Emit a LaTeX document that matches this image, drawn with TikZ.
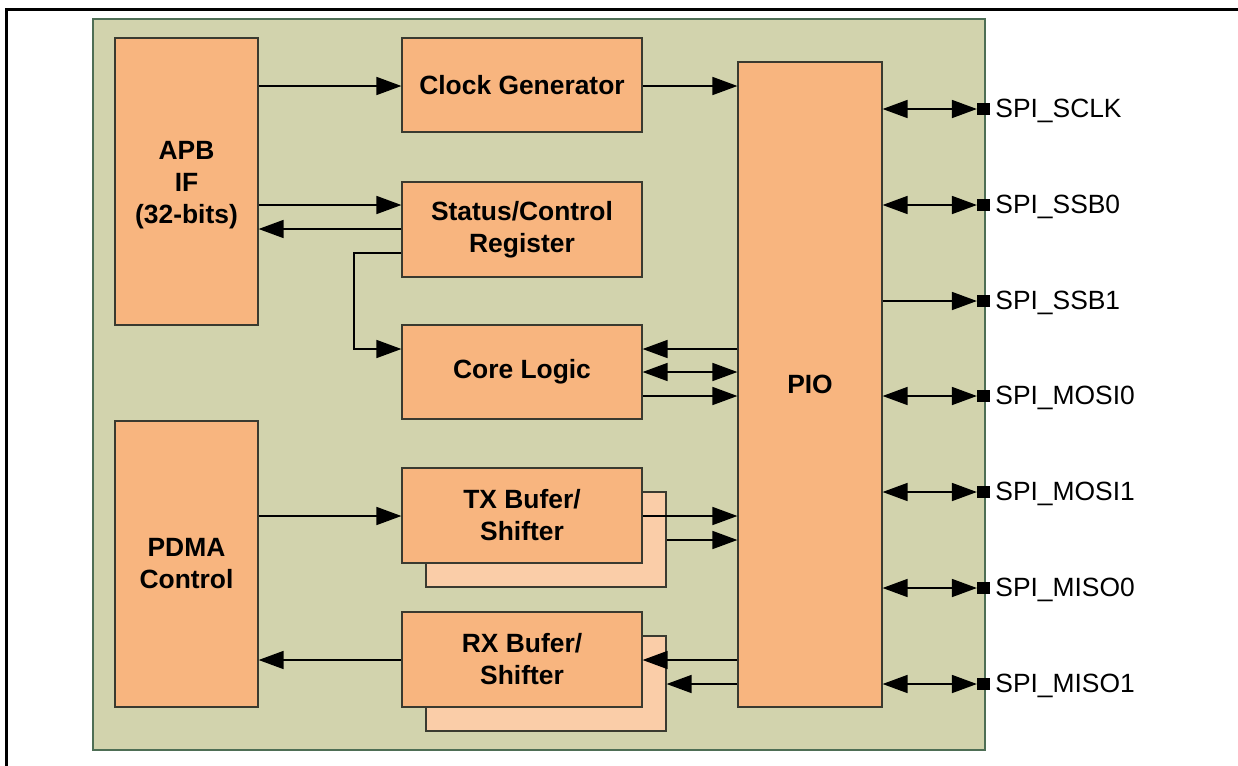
\documentclass[tikz,border=0pt]{standalone}
\usepackage{fontspec}
\setmainfont{Liberation Sans}
\usetikzlibrary{arrows.meta}
\definecolor{panelfill}{HTML}{D2D3AD}
\definecolor{paneledge}{HTML}{4E6E55}
\definecolor{boxfill}{HTML}{F8B57F}
\definecolor{shadowfill}{HTML}{FACDA8}
\definecolor{boxedge}{HTML}{3A3A30}
\tikzset{
  blk/.style={draw=boxedge, line width=0.6pt, fill=boxfill, align=center,
    font=\fontsize{13.2}{16}\selectfont\bfseries, inner sep=0pt},
  shadowblk/.style={draw=boxedge, line width=0.6pt, fill=shadowfill, inner sep=0pt},
  tip/.tip={Triangle[length=12.5pt,width=9pt]},
  arr/.style={line width=0.8pt, -tip},
  darr/.style={line width=0.8pt, tip-tip},
  pinsq/.style={fill=black, draw=none, minimum size=6.2pt, inner sep=0pt},
  pinlbl/.style={anchor=west, inner sep=0pt, font=\fontsize{13.2}{16}\selectfont},
}
\begin{document}
\begin{tikzpicture}[x=0.5pt,y=-0.5pt]
\useasboundingbox (0,0) rectangle (1238,766);
% outer frame (runs off the page to the right and bottom)
\draw[line width=1.5pt] (1250,9) -- (6.5,9) -- (6.5,780);
% panel
\draw[draw=paneledge, line width=0.6pt, fill=panelfill] (93,19) rectangle (985,750);
% blocks
\node[blk, minimum width=71.5pt, minimum height=143.5pt] (apb) at (186.5,181.5) {\rule{0pt}{13pt}APB\\IF\\(32-bits)};
\node[blk, minimum width=120pt, minimum height=47pt] (clk) at (522,85) {Clock Generator};
\node[blk, minimum width=120pt, minimum height=47.5pt] (stat) at (522,229.5) {Status/Control\\Register};
\node[blk, minimum width=120pt, minimum height=47pt] (core) at (522,372) {Core Logic};
\node[blk, minimum width=72pt, minimum height=322.5pt] (pio) at (810,384.5) {PIO};
\node[blk, minimum width=71.5pt, minimum height=143pt] (pdma) at (186.5,564) {PDMA\\Control};
\node[shadowblk, minimum width=120pt, minimum height=47.5pt] (txs) at (546,539.5) {};
\node[blk, minimum width=120pt, minimum height=47.5pt] (tx) at (522,515.5) {TX Bufer/\\Shifter};
\node[shadowblk, minimum width=120pt, minimum height=47.5pt] (rxs) at (546,683.5) {};
\node[blk, minimum width=120pt, minimum height=47.5pt] (rx) at (522,659.5) {RX Bufer/\\Shifter};
% internal connections
\draw[arr] (apb.east |- 0,86) -- (clk.west |- 0,86);
\draw[arr] (clk.east |- 0,86) -- (pio.west |- 0,86);
\draw[arr] (apb.east |- 0,205) -- (stat.west |- 0,205);
\draw[arr] (stat.west |- 0,229) -- (apb.east |- 0,229);
\draw[arr] (stat.west |- 0,253) -- (354,253) -- (354,349) -- (core.west |- 0,349);
\draw[arr] (pio.west |- 0,349) -- (core.east |- 0,349);
\draw[darr] (core.east |- 0,372) -- (pio.west |- 0,372);
\draw[arr] (core.east |- 0,396) -- (pio.west |- 0,396);
\draw[arr] (pdma.east |- 0,516) -- (tx.west |- 0,516);
\draw[arr] (tx.east |- 0,516) -- (pio.west |- 0,516);
\draw[arr] (txs.east |- 0,540) -- (pio.west |- 0,540);
\draw[arr] (rx.west |- 0,660) -- (pdma.east |- 0,660);
\draw[arr] (pio.west |- 0,660) -- (rx.east |- 0,660);
\draw[arr] (pio.west |- 0,684) -- (rxs.east |- 0,684);
% pins
\foreach \n/\y/\t in {p1/109/SPI\_SCLK, p2/205/SPI\_SSB0, p3/301/SPI\_SSB1, p4/396/SPI\_MOSI0, p5/492/SPI\_MOSI1, p6/588/SPI\_MISO0, p7/684/SPI\_MISO1}{
  \node[pinsq] (\n) at (983.5,\y) {};
  \node[pinlbl] (\n l) at (995,\y+1.5) {\t};
}
\draw[darr] (pio.east |- p1) -- (p1.west);
\draw[darr] (pio.east |- p2) -- (p2.west);
\draw[arr]  (pio.east |- p3) -- (p3.west);
\draw[darr] (pio.east |- p4) -- (p4.west);
\draw[darr] (pio.east |- p5) -- (p5.west);
\draw[darr] (pio.east |- p6) -- (p6.west);
\draw[darr] (pio.east |- p7) -- (p7.west);
\end{tikzpicture}
\end{document}
